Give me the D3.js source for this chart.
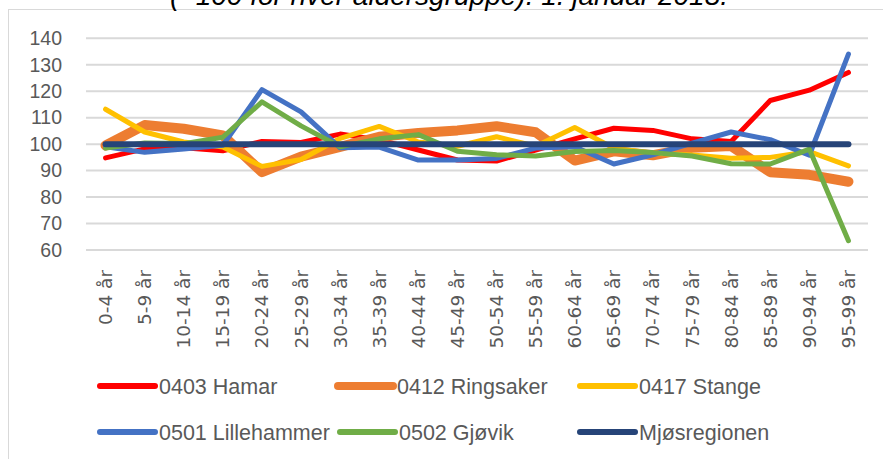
<!DOCTYPE html>
<html><head><meta charset="utf-8">
<script src="https://cdn.jsdelivr.net/npm/d3@7"></script>
<style>html,body{margin:0;padding:0;background:#fff;}</style>
</head><body>
<svg id="c" width="883" height="459"></svg>
<script>
const categories = ["0-4 år","5-9 år","10-14 år","15-19 år","20-24 år","25-29 år","30-34 år","35-39 år","40-44 år","45-49 år","50-54 år","55-59 år","60-64 år","65-69 år","70-74 år","75-79 år","80-84 år","85-89 år","90-94 år","95-99 år"];
const hamar      = [94.8, 98.2, 98.6, 97.5, 101.0, 100.6, 103.8, 101.6, 97.8, 94.0, 93.6, 97.8, 102.0, 106.0, 105.2, 102.0, 101.0, 116.5, 120.4, 127.1];
const ringsaker  = [99.5, 107.2, 105.8, 103.3, 89.4, 95.3, 99.0, 102.8, 104.2, 105.2, 106.8, 104.5, 93.8, 97.3, 95.8, 98.6, 99.3, 89.4, 88.4, 85.8];
const stange     = [113.2, 104.6, 100.8, 98.9, 91.6, 94.2, 102.2, 106.7, 100.8, 99.2, 102.8, 99.2, 106.3, 98.5, 96.6, 95.9, 94.7, 95.0, 97.2, 91.8];
const lillehammer= [99.0, 96.9, 98.2, 99.6, 120.6, 112.2, 98.6, 98.9, 94.0, 94.0, 94.6, 98.5, 99.0, 92.5, 96.0, 100.4, 104.6, 101.7, 95.8, 134.0];
const gjovik     = [98.5, 100.4, 100.2, 102.6, 116.0, 106.9, 99.0, 102.0, 103.6, 97.3, 96.0, 95.5, 97.2, 97.6, 96.8, 95.5, 92.6, 92.5, 98.1, 63.5];
const mjos       = [100,100,100,100,100,100,100,100,100,100,100,100,100,100,100,100,100,100,100,100];
const seriesNames = ["0403 Hamar","0412 Ringsaker","0417 Stange","0501 Lillehammer","0502 Gjøvik","Mjøsregionen"];
const seriesValues = [hamar, ringsaker, stange, lillehammer, gjovik, mjos];
const seriesColors = ["#FF0000","#ED7D31","#FFC000","#4472C4","#70AD47","#264478"];
const seriesWidths = [5, 10, 5, 5, 5, 6];
const yTicks = [60,70,80,90,100,110,120,130,140];
const titleText = "(=100 for hver aldersgruppe). 1. januar 2018.";

const svg = d3.select("#c");
svg.append("rect").attr("x",8.5).attr("y",9.5).attr("width",900).attr("height",500)
  .attr("fill","#fff").attr("stroke","#d9d9d9").attr("stroke-width",1);

svg.append("text").attr("x",449).attr("y",5).attr("text-anchor","middle")
  .attr("font-family","Liberation Sans, Arial, sans-serif").attr("font-style","italic")
  .attr("font-size",28).attr("fill","#000").text(titleText);

const pLeft=86, pRight=868, pTop=38.3, pBottom=250;
const x = d3.scaleBand().domain(categories).range([pLeft,pRight]);
const y = d3.scaleLinear().domain([60,140]).range([pBottom,pTop]);

const grid = svg.append("g");
grid.selectAll("line").data(yTicks).join("line")
  .attr("x1",pLeft).attr("x2",pRight).attr("y1",d=>y(d)).attr("y2",d=>y(d))
  .attr("stroke","#d9d9d9").attr("stroke-width",2);

const yAxis = svg.append("g").attr("transform",`translate(${pLeft},0)`)
  .call(d3.axisLeft(y).tickValues(yTicks).tickSize(0).tickPadding(24));
yAxis.select(".domain").remove();
yAxis.selectAll("text").attr("font-family","Liberation Sans, Arial, sans-serif")
  .attr("font-size",19.5).attr("fill","#595959");

const xAxis = svg.append("g").attr("transform",`translate(0,${pBottom})`)
  .call(d3.axisBottom(x).tickSize(0).tickPadding(0));
xAxis.select(".domain").remove();
xAxis.selectAll("text")
  .attr("font-family","DejaVu Sans, sans-serif").attr("font-size",18.5).attr("fill","#595959")
  .attr("text-anchor","end").attr("dy","0.35em")
  .attr("transform","translate(0,20) rotate(-90)").attr("x",0).attr("y",0);

const line = d3.line().x((d,i)=>x(categories[i])+x.bandwidth()/2).y(d=>y(d));
const plot = svg.append("g");
seriesValues.forEach((vals,k)=>{
  plot.append("path").datum(vals).attr("d",line).attr("fill","none")
    .attr("stroke",seriesColors[k]).attr("stroke-width",seriesWidths[k])
    .attr("stroke-linejoin","round").attr("stroke-linecap","round");
});

const legendPos = [[100,386],[338,386],[580,386],[100,432],[340,432],[580,432]];
const lg = svg.append("g");
seriesNames.forEach((n,k)=>{
  const [lx,ly] = legendPos[k];
  lg.append("line").attr("x1",lx).attr("x2",lx+55).attr("y1",ly).attr("y2",ly)
    .attr("stroke",seriesColors[k]).attr("stroke-width",k===1?8:6).attr("stroke-linecap","round");
  lg.append("text").attr("x",lx+59).attr("y",ly).attr("dy","0.35em")
    .attr("font-family","Liberation Sans, Arial, sans-serif").attr("font-size",21.5)
    .attr("fill","#595959").text(n);
});
</script>
</body></html>
